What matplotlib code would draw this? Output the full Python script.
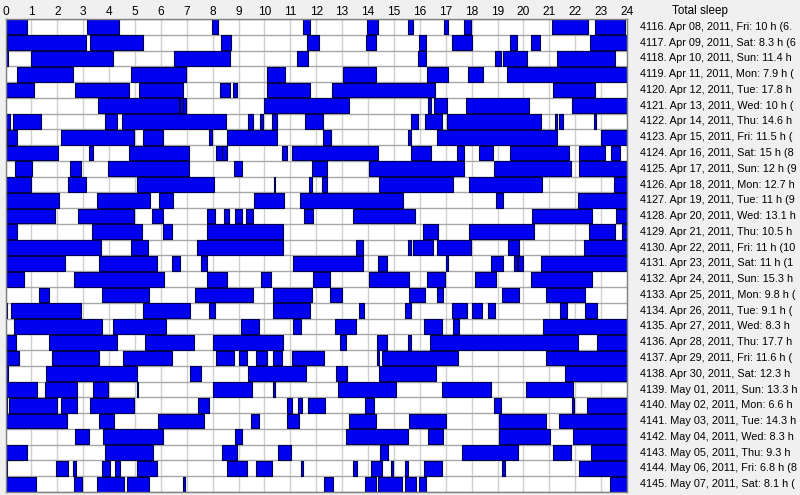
import matplotlib
matplotlib.use("Agg")
import matplotlib.pyplot as plt

plt.rcParams['font.family'] = ['Liberation Sans', 'DejaVu Sans']

day_ids = list(range(4116, 4146))
dates = ["Apr 08", "Apr 09", "Apr 10", "Apr 11", "Apr 12", "Apr 13", "Apr 14", "Apr 15",
         "Apr 16", "Apr 17", "Apr 18", "Apr 19", "Apr 20", "Apr 21", "Apr 22", "Apr 23",
         "Apr 24", "Apr 25", "Apr 26", "Apr 27", "Apr 28", "Apr 29", "Apr 30", "May 01",
         "May 02", "May 03", "May 04", "May 05", "May 06", "May 07"]
weekdays = ["Fri", "Sat", "Sun", "Mon", "Tue", "Wed", "Thu"] * 4 + ["Fri", "Sat"]
# total sleep as visible in the reference (the panel is cut at the right edge)
totals = ["10 h (6.", "8.3 h (6", "11.4 h", "7.9 h (", "17.8 h", "10 h (", "14.6 h",
          "11.5 h (", "15 h (8", "12 h (9", "12.7 h", "11 h (9", "13.1 h", "10.5 h",
          "11 h (10", "11 h (1", "15.3 h", "9.8 h (", "9.1 h (", "8.3 h", "17.7 h",
          "11.6 h (", "12.3 h", "13.3 h", "6.6 h", "14.3 h", "8.3 h", "9.3 h",
          "6.8 h (8", "8.1 h ("]

# sleep blocks per day: (start hour, end hour)
blocks = [
    [(0, 0.82), (3.13, 4.39), (7.98, 8.22), (11.47, 11.76), (13.97, 14.39), (15.53, 15.72),
     (16.92, 17.07), (17.7, 17.96), (21.1, 22.5), (22.76, 23.92)],
    [(0, 0.07), (0.07, 3.1), (3.26, 5.32), (8.32, 8.71), (11.65, 12.12), (13.92, 14.29),
     (15.96, 16.22), (17.25, 18.01), (19.48, 19.76), (20.28, 20.64), (22.57, 24)],
    [(0, 0.1), (0.97, 4.14), (6.52, 8.67), (11.27, 11.69), (15.94, 16.22), (18.9, 19.13),
     (19.22, 20.15), (21.28, 23.53)],
    [(0.46, 2.62), (4.85, 6.97), (10.1, 10.79), (13.04, 14.29), (16.26, 17.1), (17.87, 18.45),
     (19.35, 24)],
    [(0, 1.11), (2.68, 4.78), (5.15, 6.86), (8.28, 8.67), (8.8, 8.93), (10.1, 11.76),
     (12.59, 16.58), (21.15, 22.76)],
    [(3.58, 6.7), (6.72, 6.85), (6.87, 6.98), (9.98, 13.27), (16.32, 16.42), (16.55, 17.06),
     (17.77, 20.22), (21.86, 24)],
    [(0, 0.17), (0.3, 1.36), (3.84, 4.32), (4.49, 8.5), (9.37, 9.54), (9.83, 9.95),
     (10.28, 10.49), (11.56, 12.25), (15.64, 15.94), (16.2, 16.84), (17.03, 20.66),
     (21.22, 21.3), (21.38, 21.51), (22.72, 22.8)],
    [(0, 0.07), (0.07, 0.43), (2.14, 4.97), (5.32, 6.09), (7.87, 7.97), (8.54, 10.47),
     (12.27, 12.56), (15.53, 15.64), (16.67, 21.3), (22.98, 24)],
    [(0, 2.04), (3.24, 3.37), (4.78, 7.1), (8.13, 8.35), (8.35, 8.54), (10.66, 10.86),
     (11.07, 14.37), (15.66, 16.45), (17.42, 17.7), (18.29, 18.83), (19.48, 21.77),
     (22.15, 23.15), (23.4, 23.72)],
    [(0.37, 1.03), (2.49, 2.9), (3.97, 7.1), (8.82, 9.12), (11.85, 12.42), (14.03, 17.7),
     (18.86, 21.82), (22.15, 24)],
    [(0, 0.97), (2.43, 3.1), (5.09, 8.05), (10.37, 10.42), (11.73, 11.82), (12.21, 12.4),
     (14.42, 17.27), (17.91, 20.7), (23.5, 24)],
    [(0, 2.07), (3.52, 5.58), (5.92, 6.48), (9.59, 10.76), (11.37, 15.34), (18.96, 19.2),
     (22.12, 24)],
    [(0, 1.91), (2.79, 4.97), (5.64, 6.09), (7.77, 8.09), (8.44, 8.64), (8.86, 9.14),
     (9.29, 9.57), (11.54, 11.88), (13.4, 15.81), (20.35, 22.63), (23.57, 24)],
    [(0, 0.46), (3.35, 5.26), (6.09, 6.42), (7.77, 10.7), (16.13, 16.71), (17.91, 20.4),
     (22.54, 23.53), (23.81, 24)],
    [(0, 3.67), (4.85, 5.51), (7.38, 10.7), (13.52, 13.81), (15.55, 15.64), (15.75, 16.52),
     (16.65, 17.97), (19.41, 19.84), (22.34, 24)],
    [(0, 2.3), (3.62, 5.84), (6.42, 6.74), (7.55, 7.79), (11.11, 13.81), (14.39, 14.72),
     (17.0, 17.07), (18.73, 19.22), (19.63, 19.74), (19.8, 19.99), (20.66, 24)],
    [(0, 0.71), (2.64, 6.12), (7.77, 8.54), (9.86, 10.24), (11.88, 12.53), (14.03, 15.59),
     (16.26, 16.97), (18.13, 18.96), (20.28, 22.63)],
    [(1.3, 1.68), (3.74, 5.55), (7.32, 9.57), (10.34, 11.82), (12.53, 12.98), (15.59, 16.2),
     (16.67, 16.9), (19.16, 19.84), (20.86, 22.37)],
    [(0, 0.07), (0.21, 2.91), (5.3, 7.12), (7.87, 8.09), (10.34, 11.76), (13.65, 13.84),
     (15.42, 15.64), (17.23, 17.81), (18.0, 18.39), (18.62, 18.9), (21.41, 21.67),
     (22.37, 22.83)],
    [(0.33, 3.71), (4.16, 6.19), (9.09, 9.79), (11.11, 11.41), (12.72, 13.52), (16.17, 16.84),
     (17.27, 17.52), (20.74, 24)],
    [(0, 0.39), (1.68, 4.32), (5.39, 7.28), (8.0, 10.7), (12.92, 13.14), (14.36, 14.72),
     (15.53, 15.64), (16.39, 22.12), (22.86, 24)],
    [(0, 0.52), (1.81, 3.62), (4.55, 6.44), (8.13, 8.82), (9.02, 9.31), (9.67, 10.08),
     (10.34, 10.66), (11.07, 12.3), (14.36, 14.42), (14.52, 17.46), (20.86, 24)],
    [(0, 0.1), (1.55, 5.07), (7.12, 7.54), (9.37, 11.59), (12.76, 13.2), (14.43, 16.61),
     (21.6, 24)],
    [(0, 1.2), (1.53, 2.77), (3.37, 3.97), (5.07, 5.13), (8.02, 9.51), (10.32, 10.42),
     (12.85, 15.07), (16.86, 18.73), (20.1, 21.9)],
    [(0, 0.07), (0.14, 1.98), (2.14, 2.75), (3.26, 4.96), (7.44, 7.86), (10.86, 11.05),
     (11.28, 11.44), (11.69, 12.34), (13.88, 14.23), (18.87, 19.12), (21.86, 21.95),
     (22.44, 24)],
    [(0, 2.36), (3.62, 4.2), (5.88, 7.66), (9.47, 9.79), (10.86, 11.34), (13.27, 14.3),
     (15.59, 17.0), (19.07, 20.87), (21.38, 24)],
    [(2.68, 3.24), (3.78, 6.09), (8.86, 9.12), (13.15, 15.55), (16.32, 16.9), (19.07, 21.02),
     (21.92, 24)],
    [(0, 0.82), (3.84, 5.68), (8.35, 8.93), (10.51, 11.01), (14.46, 14.78), (17.61, 19.8),
     (21.13, 21.82), (22.61, 24)],
    [(0, 0.05), (1.94, 2.43), (2.62, 2.72), (3.71, 4.03), (4.23, 4.42), (5.07, 5.84),
     (8.56, 9.31), (9.67, 10.3), (11.41, 11.5), (13.43, 13.56), (14.11, 14.55),
     (14.88, 14.97), (15.42, 15.53), (16.17, 16.84), (19.16, 19.29), (22.14, 24)],
    [(0, 1.17), (2.64, 2.97), (3.54, 4.58), (4.68, 5.54), (6.86, 6.94), (12.3, 12.63),
     (13.88, 14.29), (14.39, 15.32), (15.42, 15.85), (15.96, 16.22), (23.34, 24)],
]

hour_ticks = list(range(0, 25))

W, H = 800, 495
fig = plt.figure(figsize=(W / 100, H / 100), dpi=100)
fig.patch.set_facecolor('#f0f0f0')

x0, x1 = 5.5, 627
y0, y1 = 19, 492
ax = fig.add_axes([x0 / W, 1 - y1 / H, (x1 - x0) / W, (y1 - y0) / H])
ax.set_facecolor('white')
n = len(blocks)
ax.set_xlim(0, 24)
ax.set_ylim(n, 0)

ax.vlines(hour_ticks, 0, n, colors='#cfcfcf', linewidth=1, zorder=1)
ax.hlines(range(n + 1), 0, 24, colors='#a8a8a8', linewidth=1, zorder=1)

for i, day in enumerate(blocks):
    ax.broken_barh([(s, e - s) for s, e in day], (i + 0.03, 0.94),
                   facecolors='#0000f0', edgecolors='#000050', linewidth=0.8, zorder=2)

ax.xaxis.tick_top()
ax.set_xticks(hour_ticks)
ax.set_xticklabels([str(h) for h in hour_ticks], fontsize=8.6)
ax.tick_params(axis='x', length=0, pad=1)
ax.set_yticks([])
for sp in ax.spines.values():
    sp.set_color('#808080')
    sp.set_linewidth(1)

fig.text(672 / W, 1 - 11 / H, "Total sleep", fontsize=8.4, va='center', ha='left')
for i in range(n):
    label = f"{day_ids[i]}. {dates[i]}, 2011, {weekdays[i]}: {totals[i]}"
    yc = y0 + (i + 0.5) * (y1 - y0) / n
    fig.text(640 / W, 1 - yc / H, label, fontsize=7.85, va='center', ha='left')

fig.savefig("out.png", dpi=100, facecolor=fig.get_facecolor())
